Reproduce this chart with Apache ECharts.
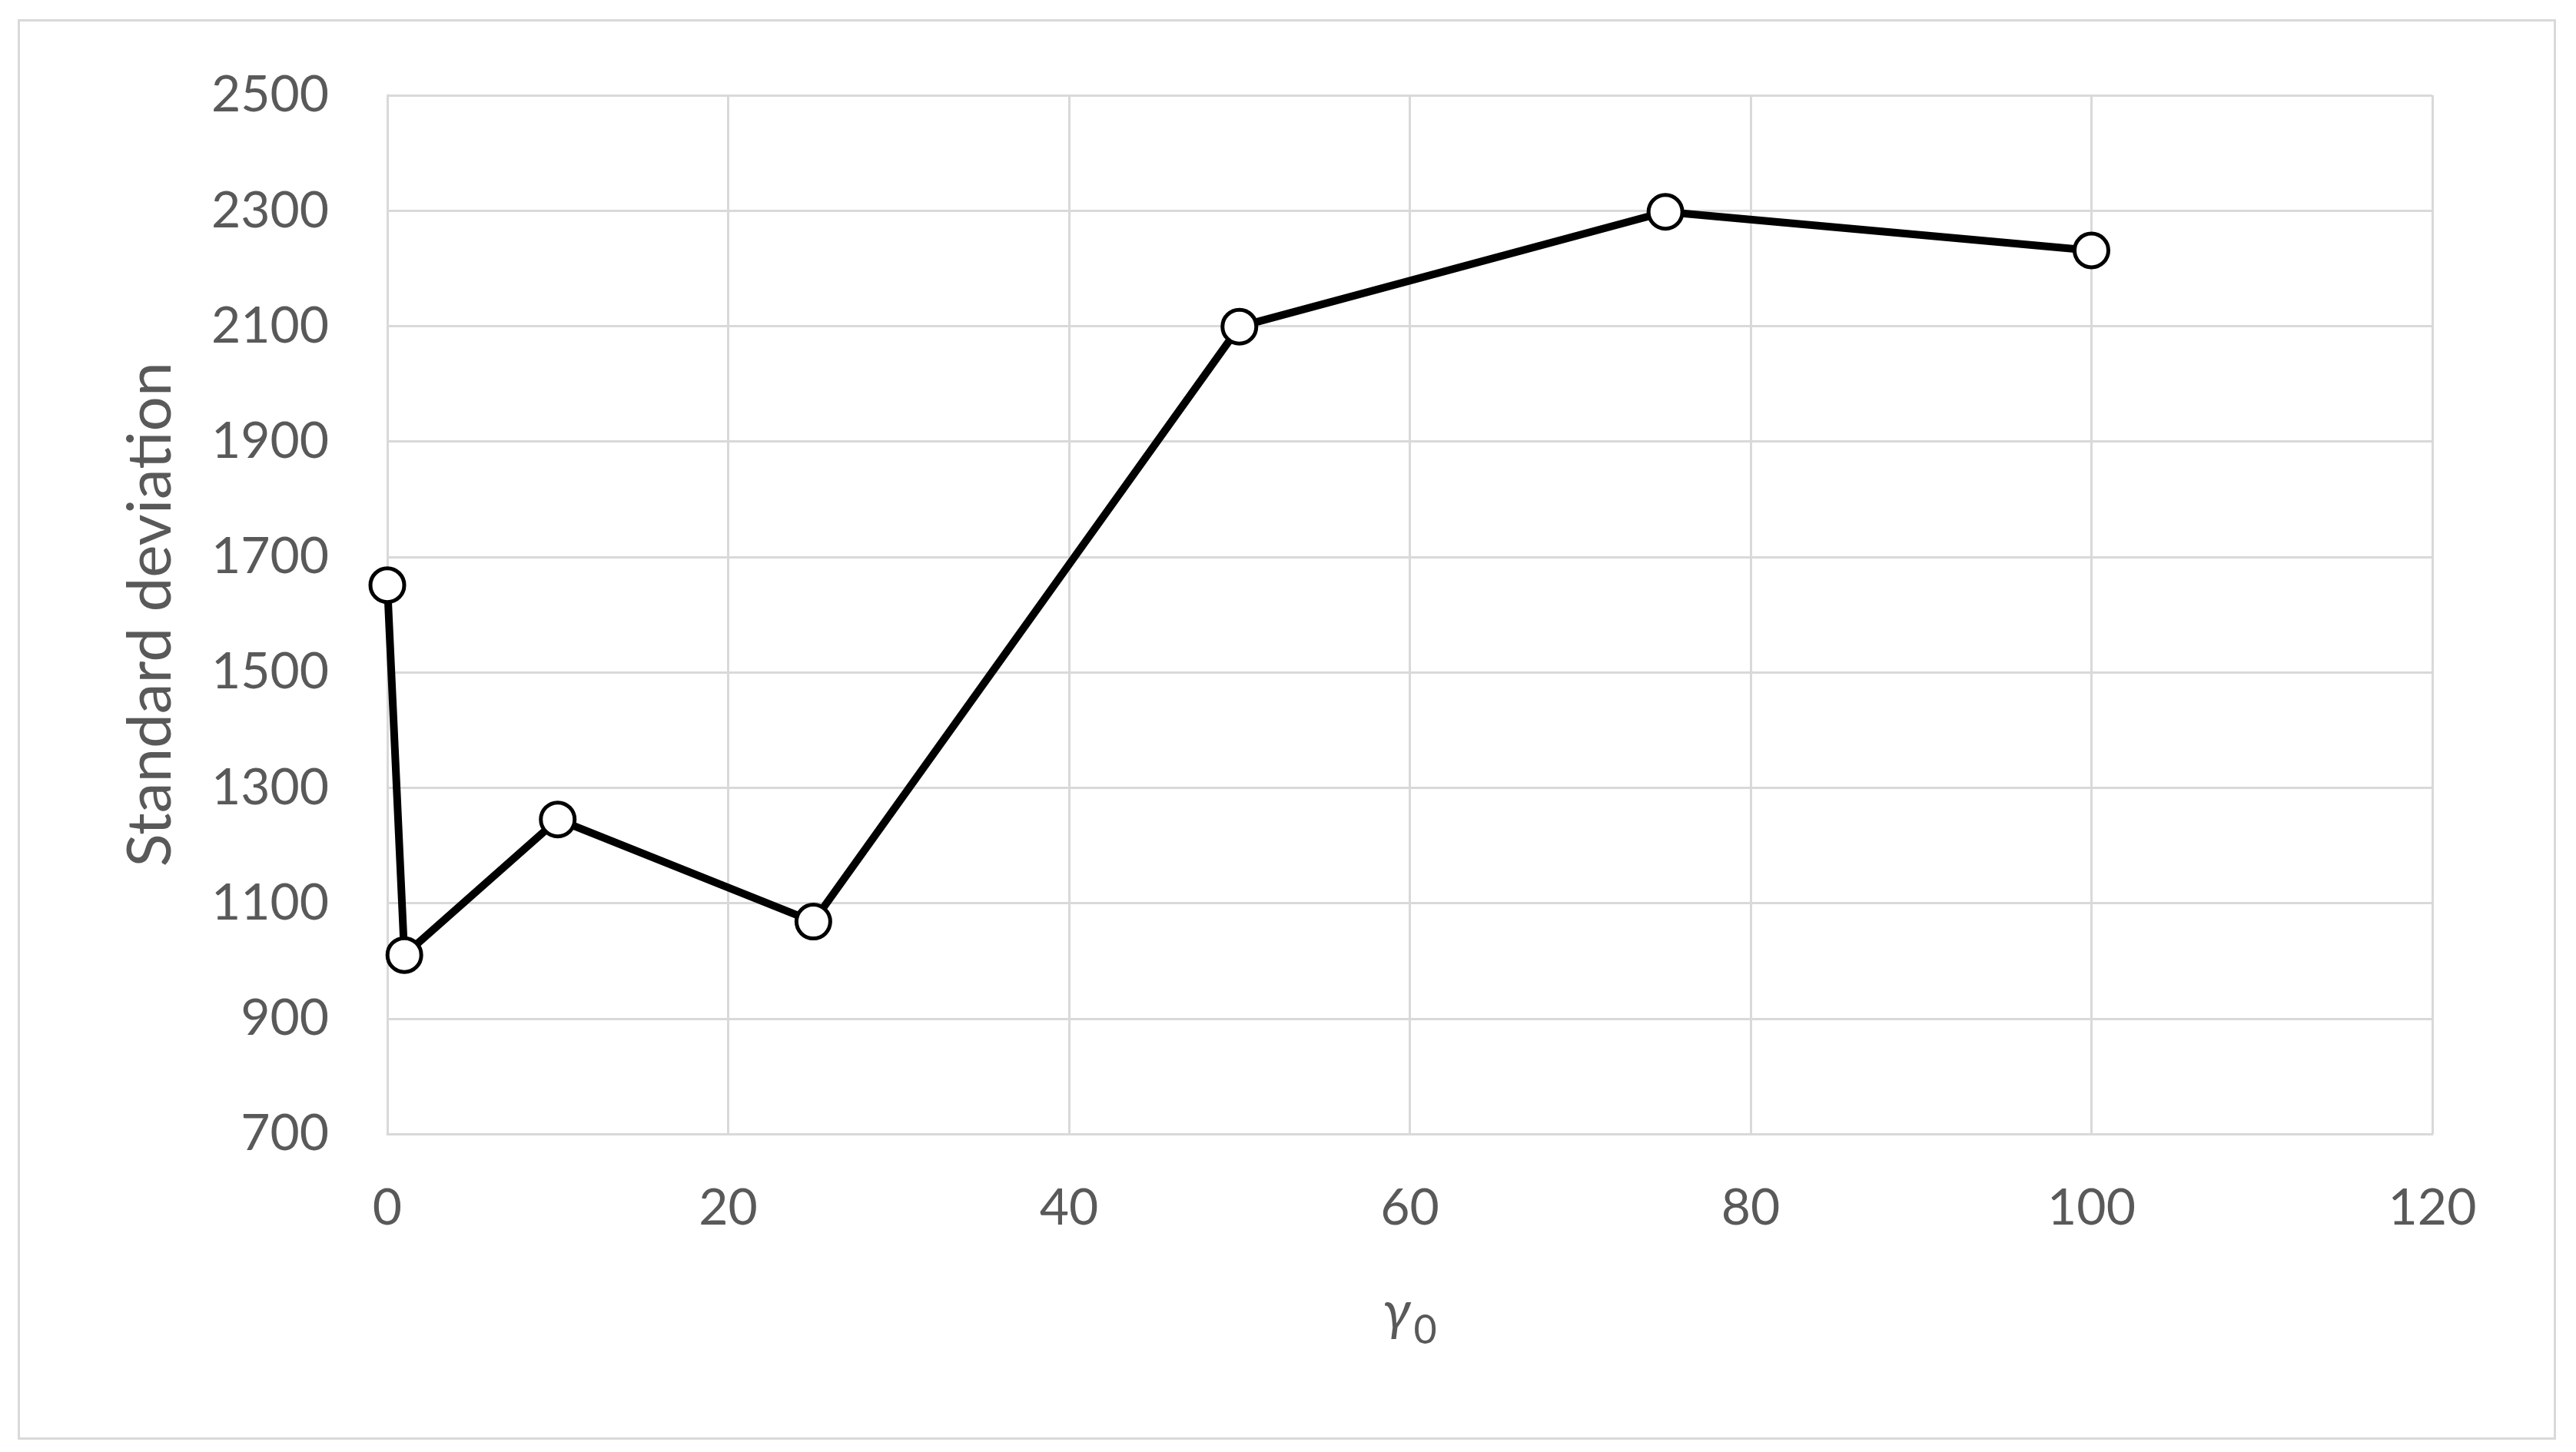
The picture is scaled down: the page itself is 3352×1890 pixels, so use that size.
<!DOCTYPE html>
<html>
<head>
<meta charset="utf-8">
<script src="https://cdn.jsdelivr.net/npm/echarts@6/dist/echarts.min.js"></script>
<style>
	html, body { margin: 0; padding: 0; background: #fff; }
	.main { width: 3352px; height: 1890px; }
</style>
</head>
<body>
<div class="main"></div>
<script>
// 数据
let gammaValues = [0, 1, 10, 25, 50, 75, 100];
let stdValues = [1651, 1010, 1245, 1068, 2099, 2298, 2231];

let textColor = '#595959';
let gridColor = '#d9d9d9';

let myChart = echarts.init(document.getElementsByClassName('main')[0]);

let points = [];
for (let i = 0; i < gammaValues.length; i++) {
	points.push([gammaValues[i], stdValues[i]]);
}

let option = {
	backgroundColor: '#fff',
	textStyle: { fontFamily: 'Lato' },
	// 外边框
	graphic: [{
		type: 'rect',
		left: 22,
		top: 24,
		shape: { width: 3300, height: 1846 },
		style: { fill: 'none', stroke: gridColor, lineWidth: 3 },
		silent: true
	}],
	grid: {
		left: 504,
		right: 187,
		top: 124,
		bottom: 414
	},
	xAxis: {
		type: 'value',
		min: 0,
		max: 120,
		interval: 20,
		name: '{g|γ}{s|0}',
		nameLocation: 'middle',
		nameGap: 196,
		nameTextStyle: {
			rich: {
				g: { fontFamily: 'Lato', fontStyle: 'italic', fontSize: 72, lineHeight: 72, color: textColor, verticalAlign: 'top' },
				s: { fontFamily: 'Lato', fontSize: 52, lineHeight: 52, color: textColor, verticalAlign: 'top', padding: [34, 0, 0, 4] }
			}
		},
		axisLine: { show: true, lineStyle: { color: gridColor, width: 3 } },
		axisTick: { show: false },
		axisLabel: { color: textColor, fontSize: 66, margin: 64, fontFamily: 'Lato' },
		splitLine: { show: true, lineStyle: { color: gridColor, width: 3 } }
	},
	yAxis: {
		type: 'value',
		min: 700,
		max: 2500,
		interval: 200,
		name: 'Standard deviation',
		nameLocation: 'middle',
		nameGap: 268,
		nameTextStyle: { color: textColor, fontSize: 80, fontFamily: 'Lato' },
		axisLine: { show: true, lineStyle: { color: gridColor, width: 3 } },
		axisTick: { show: false },
		axisLabel: {
			color: textColor,
			fontSize: 66,
			margin: 76,
			fontFamily: 'Lato',
			formatter(v) {
				return String(v);
			}
		},
		splitLine: { show: true, lineStyle: { color: gridColor, width: 3 } }
	},
	series: [{
		type: 'line',
		data: points,
		symbol: 'circle',
		symbolSize: 44,
		lineStyle: { color: '#000', width: 10 },
		itemStyle: { color: '#fff', borderColor: '#000', borderWidth: 5 },
		animation: false
	}]
};
myChart.setOption(option);
</script>
</body>
</html>
